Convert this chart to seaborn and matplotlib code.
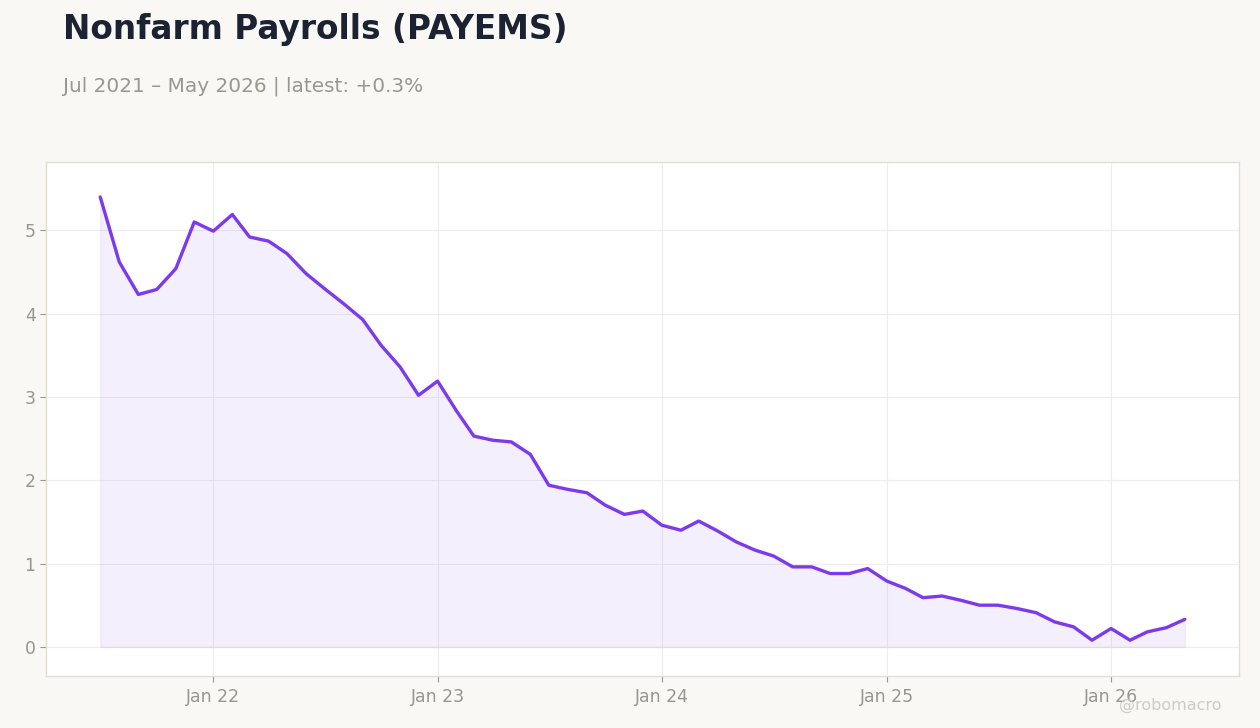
import seaborn as sns
import matplotlib.pyplot as plt
import matplotlib.dates as mdates
import pandas as pd

sns.set_style("white")
plt.rcParams["font.family"] = ["DejaVu Sans"]

# year-over-year % change, monthly, Jul 2021 - May 2026
start_month = "2021-07-01"
yoy_change = [
    5.40, 4.62, 4.23, 4.29, 4.54, 5.10,
    4.99, 5.19, 4.92, 4.87, 4.72, 4.48, 4.30, 4.12, 3.93, 3.62, 3.36, 3.02,
    3.19, 2.83, 2.53, 2.48, 2.46, 2.31, 1.94, 1.89, 1.85, 1.70, 1.59, 1.63,
    1.46, 1.40, 1.51, 1.39, 1.26, 1.16, 1.09, 0.96, 0.96, 0.88, 0.88, 0.94,
    0.79, 0.70, 0.59, 0.61, 0.56, 0.50, 0.50, 0.46, 0.41, 0.30, 0.24, 0.08,
    0.22, 0.08, 0.18, 0.23, 0.33,
]
title = "Nonfarm Payrolls (PAYEMS)"
subtitle = "Jul 2021 \u2013 May 2026 | latest: +0.3%"
credit = "@robomacro"

df = pd.DataFrame({
    "date": pd.date_range(start_month, periods=len(yoy_change), freq="MS"),
    "value": yoy_change,
})

line_color = "#7c3aed"
bg = "#f9f8f5"

fig = plt.figure(figsize=(12.6, 7.28), dpi=100, facecolor=bg)
ax = fig.add_axes([46 / 1260, 1 - 676 / 728, (1239 - 46) / 1260, (676 - 162) / 728])
ax.set_facecolor("white")

ax.fill_between(df["date"], df["value"], 0, color=line_color, alpha=0.08, linewidth=1)
sns.lineplot(data=df, x="date", y="value", ax=ax, color=line_color, linewidth=2.4)

ax.set_ylim(-0.35, 5.82)
ax.margins(x=0.05)
ax.set_yticks(range(0, 6))
ax.xaxis.set_major_locator(mdates.MonthLocator(bymonth=1))
ax.xaxis.set_major_formatter(mdates.DateFormatter("%b %y"))
ax.set_xlabel("")
ax.set_ylabel("")

ax.grid(True, color="#eeecef", linewidth=0.8)
ax.tick_params(axis="both", labelsize=12.4, labelcolor="#999590", color="#999590",
               length=4, width=0.8, left=True, bottom=True)
ax.tick_params(axis="x", pad=5)
for s in ax.spines.values():
    s.set_color("#e2ddd5")
    s.set_linewidth(1)

fig.text(63 / 1260, 1 - 30 / 728, title, fontsize=23.6, fontweight="bold",
         color="#1b2333", va="center", ha="left")
fig.text(63 / 1260, 1 - 86 / 728, subtitle, fontsize=14.4, color="#9a9690",
         va="center", ha="left")
fig.text(1222 / 1260, 1 - 705 / 728, credit, fontsize=11.5, color="#cfccc7",
         va="center", ha="right")

fig.savefig("out.png", dpi=100, facecolor=bg)
